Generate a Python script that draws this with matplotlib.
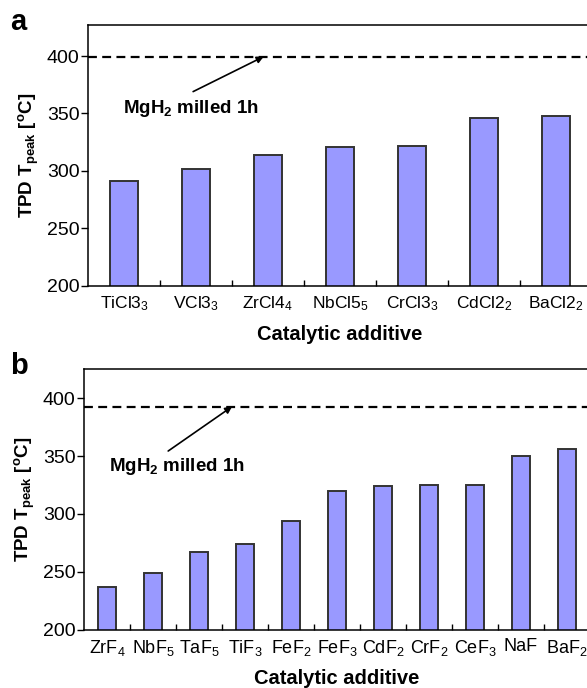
import matplotlib
matplotlib.use("Agg")
import matplotlib.pyplot as plt
import numpy as np

plt.rcParams['font.family'] = ['Liberation Sans', 'DejaVu Sans']
plt.rcParams['mathtext.fontset'] = 'custom'
plt.rcParams['mathtext.rm'] = 'Liberation Sans'
plt.rcParams['mathtext.it'] = 'Liberation Sans'
plt.rcParams['mathtext.bf'] = 'Liberation Sans:bold'

# Panel a data
cats_a = ["TiCl3$_3$", "VCl3$_3$", "ZrCl4$_4$", "NbCl5$_5$", "CrCl3$_3$", "CdCl2$_2$", "BaCl2$_2$"]
vals_a = [291, 302, 314, 321, 322, 346, 348]
ref_a = 399

# Panel b data
cats_b = ["ZrF$_4$", "NbF$_5$", "TaF$_5$", "TiF$_3$", "FeF$_2$", "FeF$_3$", "CdF$_2$",
          "CrF$_2$", "CeF$_3$", "NaF", "BaF$_2$"]
vals_b = [237, 249, 267, 274, 294, 320, 324.5, 325.5, 325.5, 350, 356]
ref_b = 392.5

yticks = [200, 250, 300, 350, 400]

W, H = 587, 688
fig = plt.figure(figsize=(W / 100, H / 100), dpi=100)

bar_color = '#9999FF'
edge_color = '#333333'
ylabel = r'TPD T$_{\mathbf{peak}}$ [$^{\mathbf{o}}$C]'


def panel(rect, cats, vals, ref, ylim, letter, txt_xy, arrow_tail, arrow_tip, letter_y,
          xt_size, xt_pad, xl_pad):
    ax = fig.add_axes(rect)
    x = np.arange(len(cats))
    ax.bar(x, vals, width=0.4, color=bar_color, edgecolor=edge_color, linewidth=1.4, zorder=2)
    ax.axhline(ref, color='black', lw=1.6, dashes=(4, 2.4), zorder=3)
    ax.set_xlim(-0.5, len(cats) - 0.5)
    ax.set_ylim(*ylim)
    ax.set_yticks(yticks)
    ax.set_xticks(x)
    ax.set_xticklabels(cats, fontsize=xt_size)
    ax.set_xticks(np.arange(len(cats) - 1) + 0.5, minor=True)
    ax.tick_params(axis='x', which='major', length=0, pad=xt_pad)
    ax.tick_params(axis='x', which='minor', direction='in', length=4, width=1)
    ax.tick_params(axis='y', direction='out', length=5, width=1, labelsize=14, pad=1)
    ax.spines['right'].set_visible(False)
    for s in ['top', 'left', 'bottom']:
        ax.spines[s].set_linewidth(1.1)
    ax.set_xlabel('Catalytic additive', fontsize=14.5, fontweight='bold', labelpad=xl_pad)
    ax.set_ylabel(ylabel, fontsize=13.5, fontweight='bold', labelpad=4)
    ax.annotate('', xy=arrow_tip, xytext=arrow_tail,
                arrowprops=dict(arrowstyle='-|>', color='black', lw=1.2,
                                mutation_scale=10, shrinkA=0, shrinkB=0), zorder=4)
    ax.text(txt_xy[0], txt_xy[1], r'MgH$_\mathbf{2}$ milled 1h', fontsize=13.5,
            fontweight='bold', ha='center', va='center')
    fig.text(10 / W, letter_y, letter, fontsize=21, fontweight='bold', ha='left', va='center')
    return ax


# axes rectangles from pixel geometry
rect_a = [88 / W, 1 - 285.7 / H, (592 - 88) / W, (285.7 - 25) / H]
rect_b = [84 / W, 1 - 629.5 / H, (590 - 84) / W, (629.5 - 369) / H]

panel(rect_a, cats_a, vals_a, ref_a, (200, 427), 'a',
      txt_xy=(0.93, 354), arrow_tail=(0.96, 369), arrow_tip=(1.94, 399.5), letter_y=1 - 22 / H,
      xt_size=12.5, xt_pad=6, xl_pad=9)
panel(rect_b, cats_b, vals_b, ref_b, (200, 425.5), 'b',
      txt_xy=(1.53, 341), arrow_tail=(1.33, 354.5), arrow_tip=(2.72, 393), letter_y=1 - 366 / H,
      xt_size=13, xt_pad=6, xl_pad=8)

fig.savefig('out.png', dpi=100)
